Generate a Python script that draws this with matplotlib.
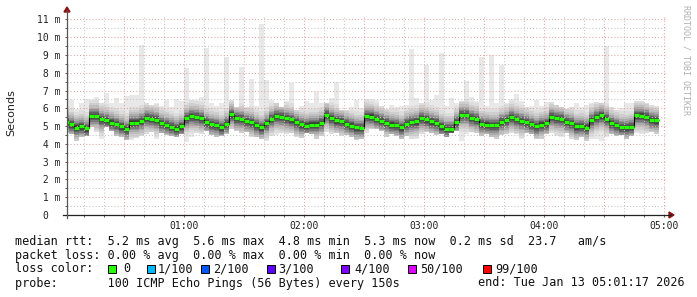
import numpy as np
import matplotlib
matplotlib.use("Agg")
from matplotlib import pyplot as plt
from matplotlib.lines import Line2D
from matplotlib.patches import Polygon, Rectangle

# one value per 150 s step, x in minutes since 00:00
step_end = np.arange(1, 120) * 2.5

median = [5.25, 5.1, 4.92, 4.98, 4.87, 5.58, 5.58, 5.39, 5.33, 5.2,
          5.12, 4.98, 4.84, 5.2, 5.2, 5.3, 5.47, 5.42, 5.36, 5.16,
          5.08, 4.97, 4.86, 4.98, 5.46, 5.57, 5.53, 5.45, 5.23, 5.12,
          5.05, 4.93, 5.13, 5.66, 5.45, 5.41, 5.28, 5.22, 5.06, 4.93,
          5.15, 5.41, 5.56, 5.52, 5.45, 5.38, 5.22, 5.1, 5.03, 5.09,
          5.09, 5.19, 5.64, 5.45, 5.32, 5.28, 5.13, 5.03, 4.93, 4.91,
          5.56, 5.54, 5.41, 5.3, 5.19, 5.09, 5.06, 4.93, 5.13, 5.22,
          5.26, 5.45, 5.38, 5.26, 5.19, 4.98, 4.85, 4.85, 5.22, 5.64,
          5.64, 5.47, 5.39, 5.13, 5.09, 5.06, 5.06, 5.24, 5.34, 5.51,
          5.39, 5.3, 5.22, 5.12, 4.99, 5.09, 5.15, 5.52, 5.45, 5.41,
          5.24, 5.18, 4.98, 5.0, 4.92, 5.34, 5.5, 5.6, 5.42, 5.18,
          5.05, 4.95, 4.93, 4.97, 5.6, 5.59, 5.52, 5.36, 5.32]

rtt_max = [8.5, 6.47, 5.96, 6.29, 6.5, 6.47, 6.62, 6.32, 6.84, 6.29,
           6.58, 6.32, 6.69, 6.76, 6.76, 9.56, 6.29, 6.18, 6.32, 6.14,
           6.47, 6.1, 6.5, 6.4, 8.25, 6.47, 6.47, 6.65, 9.41, 6.29,
           6.14, 6.3, 8.86, 6.47, 6.1, 8.35, 6.1, 7.67, 6.14, 10.73,
           7.58, 6.47, 6.29, 6.07, 6.4, 7.45, 5.9, 6.14, 6.43, 6.3,
           6.94, 6.32, 6.29, 6.6, 7.5, 5.9, 5.93, 6.1, 6.47, 6.03,
           6.5, 6.5, 6.47, 6.14, 5.96, 6.2, 6.07, 6.14, 6.2, 9.34,
           6.6, 6.32, 8.42, 6.47, 6.76, 9.12, 6.14, 6.6, 6.29, 6.43,
           7.54, 6.65, 6.4, 8.86, 6.14, 9.01, 6.29, 8.46, 6.29, 6.55,
           6.8, 6.43, 6.07, 6.14, 6.47, 6.14, 6.36, 6.36, 6.21, 6.07,
           5.96, 6.1, 6.32, 6.07, 6.21, 6.29, 6.36, 6.29, 9.49, 6.1,
           5.92, 6.0, 6.29, 6.29, 6.43, 6.4, 6.29, 6.18, 6.14]

rtt_min = [4.63, 4.54, 4.15, 4.41, 4.45, 4.96, 4.67, 4.3, 4.96, 4.7,
           4.45, 4.36, 4.23, 4.23, 4.34, 4.45, 4.54, 4.67, 4.3, 4.63,
           4.49, 4.45, 4.36, 4.54, 4.12, 4.41, 4.63, 4.54, 4.72, 4.49,
           4.41, 4.45, 4.54, 4.82, 4.72, 4.6, 4.67, 4.41, 4.36, 4.26,
           4.17, 4.45, 4.49, 4.63, 4.54, 4.63, 4.41, 4.34, 4.6, 4.54,
           4.26, 4.45, 4.67, 4.54, 4.6, 4.45, 4.49, 4.36, 4.23, 4.3,
           4.63, 4.82, 4.86, 4.72, 4.41, 4.54, 4.45, 4.3, 4.45, 4.3,
           4.26, 4.54, 4.67, 4.63, 4.49, 4.54, 4.41, 4.63, 4.72, 4.17,
           4.54, 4.67, 4.6, 4.45, 4.54, 4.36, 4.3, 4.49, 4.54, 4.63,
           4.54, 4.3, 4.63, 4.54, 4.3, 4.26, 4.54, 4.6, 4.45, 4.41,
           4.63, 4.26, 4.23, 4.36, 4.19, 4.26, 4.3, 4.19, 4.36, 4.54,
           4.45, 4.49, 4.3, 4.45, 4.63, 4.54, 4.6, 4.67, 4.54]

hour_ticks = [60, 120, 180, 240, 300]
hour_labels = ["01:00", "02:00", "03:00", "04:00", "05:00"]
ms_ticks = list(range(12))
ms_labels = ["0  "] + ["%2d m" % v for v in range(1, 12)]

loss_labels = ["0", "1/100", "2/100", "3/100", "4/100", "50/100", "99/100"]
loss_colors = ["#26ff00", "#00b8ff", "#0059ff", "#5e00ff", "#7e00ff", "#dd00ff", "#ff0000"]

W, H = 697, 297
MONO = "DejaVu Sans Mono"


def fx(px):
    return px / W


def fy(py):
    return 1 - py / H


fig = plt.figure(figsize=(W / 100, H / 100), dpi=100)
fig.patch.set_facecolor("white")
ax = fig.add_axes([fx(67), fy(215), 600 / W, 200 / H])

edges = np.r_[0.0, step_end]
med = np.array(median)
hi = np.array(rtt_max)
lo = np.array(rtt_min)


def ext(a):
    return np.r_[a, a[-1]]


# smoke: outer min/max band, then darker bands toward the median
ax.fill_between(edges, ext(lo), ext(hi), step="post", color="#e8e8e8", lw=0, antialiased=False, zorder=1)
smoke = [(0.95, 0.9, "#dddddd"), (0.8, 0.72, "#cecece"), (0.66, 0.58, "#bebebe"),
         (0.54, 0.46, "#aaaaaa"), (0.44, 0.36, "#939393"), (0.35, 0.27, "#7a7a7a"),
         (0.26, 0.19, "#606060"), (0.18, 0.12, "#464646"), (0.11, 0.06, "#303030")]
for wd, wu, c in smoke:
    a = np.maximum(med - wd, lo)
    b = np.minimum(med + wu, hi)
    ax.fill_between(edges, ext(a), ext(b), step="post", color=c, lw=0, antialiased=False, zorder=1)

ax.stairs(med, edges, baseline=None, color="black", lw=0.8, zorder=3)
ax.hlines(med, edges[:-1], edges[1:], color=loss_colors[0], lw=2.3, zorder=4)

ax.set_xlim(77 / 60, 300 + 77 / 60)
ax.set_ylim(0, 11.25)

ax.set_xticks(np.arange(30, 301, 30))
ax.set_xticklabels([hour_labels[hour_ticks.index(t)] if t in hour_ticks else "" for t in range(30, 301, 30)])
ax.set_xticks(np.arange(10, 301, 10), minor=True)
ax.set_yticks(ms_ticks)
ax.set_yticklabels(ms_labels)
ax.set_yticks(np.arange(0.5, 11.2, 1.0), minor=True)

ax.grid(which="minor", color="#c4c4c4", ls=(0, (1, 2)), lw=0.75)
ax.grid(which="major", color="#e3a4a4", ls=(0, (1, 2)), lw=0.75)
ax.set_axisbelow(False)
for gl in ax.get_xgridlines() + ax.get_ygridlines():
    gl.set_zorder(2)

ax.tick_params(which="both", length=1.6, width=0.7, color="#555555", labelsize=7, pad=3)
for lab in ax.get_xticklabels() + ax.get_yticklabels():
    lab.set_family(MONO)
    lab.set_color("#222222")
for s in ax.spines.values():
    s.set_visible(False)

# axis lines with arrows, as rrdtool draws them
fig.add_artist(Line2D([fx(63), fx(671)], [fy(215), fy(215)], color="#222222", lw=0.9))
fig.add_artist(Line2D([fx(67), fx(67)], [fy(218), fy(10)], color="#555555", lw=0.9))
fig.add_artist(Polygon([(fx(669), fy(212)), (fx(674), fy(215)), (fx(669), fy(218))], closed=True, color="#8b1010"))
fig.add_artist(Polygon([(fx(64), fy(12)), (fx(67), fy(7)), (fx(70), fy(12))], closed=True, color="#8b1010"))

fig.text(fx(11), fy(113), "Seconds", rotation=90, ha="center", va="center", fontsize=8, color="#222222")
fig.text(fx(686), fy(60), "RRDTOOL / TOBI OETIKER", rotation=270, ha="center", va="center",
         fontsize=6, family=MONO, color="#b0b0b0")

txt = dict(fontsize=8.5, family=MONO, color="#111111", va="center", ha="left")
fig.text(fx(15), fy(241), "median rtt:  5.2 ms avg  5.6 ms max  4.8 ms min  5.3 ms now  0.2 ms sd  23.7   am/s", **txt)
fig.text(fx(15), fy(255), "packet loss: 0.00 % avg  0.00 % max  0.00 % min  0.00 % now", **txt)
fig.text(fx(15), fy(269), "loss color:", **txt)
fig.text(fx(15), fy(283), "probe:       100 ICMP Echo Pings (56 Bytes) every 150s", **txt)
fig.text(fx(478), fy(283), "end: Tue Jan 13 05:01:17 2026", **txt)

box_x = [108, 147, 201, 267, 341, 408, 483]
label_x = [123, 158, 213, 278, 354, 420, 495]
for bx, lx, lab, col in zip(box_x, label_x, loss_labels, loss_colors):
    fig.add_artist(Rectangle((fx(bx), fy(273)), 8 / W, 8 / H, facecolor=col, edgecolor="black", lw=0.7))
    fig.text(fx(lx), fy(269), lab, **txt)

fig.savefig("out.png", dpi=100, facecolor="white")
